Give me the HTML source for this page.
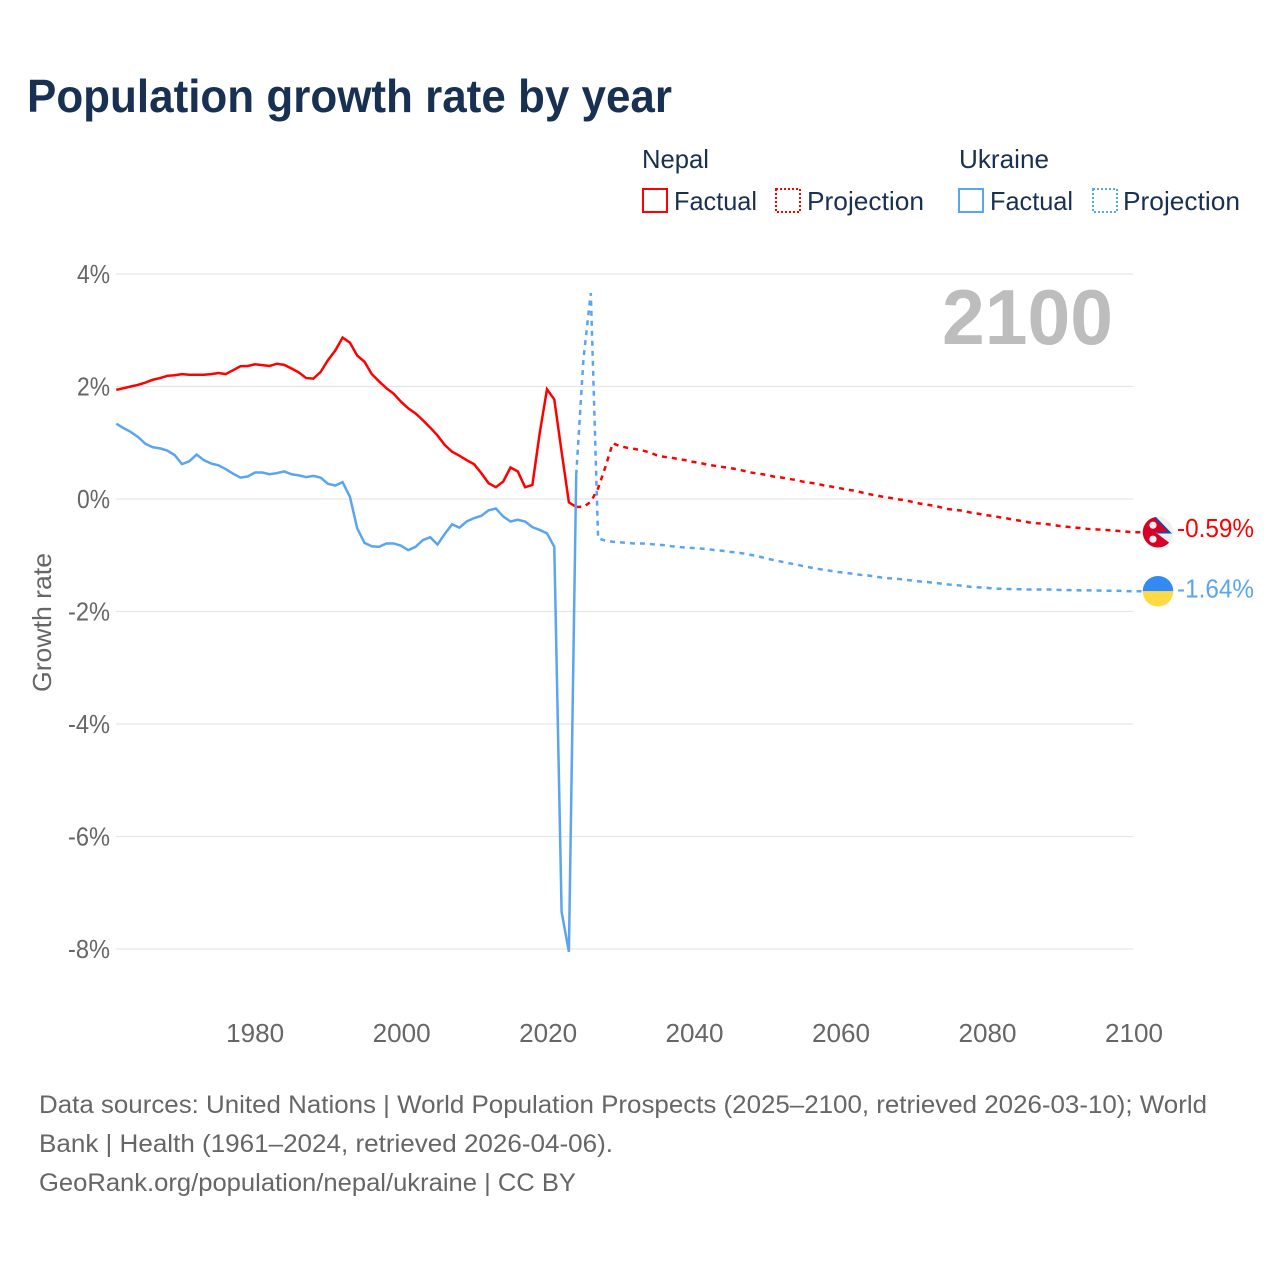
<!DOCTYPE html>
<html lang="en">
<head>
<meta charset="utf-8">
<title>Population growth rate by year</title>
<style>
html,body{margin:0;padding:0;background:#fff;}
svg{display:block;font-family:"Liberation Sans",sans-serif;}
.tick{font-size:26px;fill:#666;}
.legend{font-size:26px;fill:#1a3050;}
.foot{font-size:25px;fill:#666;}
</style>
</head>
<body>
<svg id="chart" width="1280" height="1280" viewBox="0 0 1280 1280" xmlns="http://www.w3.org/2000/svg">
  <rect x="0" y="0" width="1280" height="1280" fill="#fff"/>
  <text x="27" y="112" font-size="46" font-weight="700" fill="#183153" textLength="645" lengthAdjust="spacingAndGlyphs">Population growth rate by year</text>

  <g>
    <text class="legend" x="642" y="168" textLength="67" lengthAdjust="spacingAndGlyphs">Nepal</text>
    <text class="legend" x="959" y="168" textLength="90" lengthAdjust="spacingAndGlyphs">Ukraine</text>
    <rect x="643" y="189" width="24" height="23" fill="none" stroke="#ff0000" stroke-width="2"/>
    <text class="legend" x="674" y="210" textLength="83" lengthAdjust="spacingAndGlyphs">Factual</text>
    <rect x="776" y="189" width="24" height="23" fill="none" stroke="#ff0000" stroke-width="2" stroke-dasharray="2 2"/>
    <text class="legend" x="807" y="210" textLength="117" lengthAdjust="spacingAndGlyphs">Projection</text>
    <rect x="959" y="189" width="24" height="23" fill="none" stroke="#5aa5f0" stroke-width="2"/>
    <text class="legend" x="990" y="210" textLength="83" lengthAdjust="spacingAndGlyphs">Factual</text>
    <rect x="1093" y="189" width="24" height="23" fill="none" stroke="#5aa5f0" stroke-width="2" stroke-dasharray="2 2"/>
    <text class="legend" x="1123" y="210" textLength="117" lengthAdjust="spacingAndGlyphs">Projection</text>
  </g>

  <g id="grid"></g>
  <g id="y-ticks"></g>
  <g id="x-ticks"></g>
  <text class="tick" transform="translate(51,692) rotate(-90)" textLength="139" lengthAdjust="spacingAndGlyphs">Growth rate</text>
  <text x="942" y="344" font-size="78" font-weight="700" fill="#bdbdbd" textLength="171" lengthAdjust="spacingAndGlyphs">2100</text>

  <path id="nepal-projection-line" fill="none" stroke="#ff0000" stroke-width="2.5" stroke-dasharray="5 5"/>
  <path id="nepal-factual-line" fill="none" stroke="#ff0000" stroke-width="2.5" stroke-linejoin="miter"/>
  <path id="ukraine-projection-line" fill="none" stroke="#5aa5f0" stroke-width="2.5" stroke-dasharray="5 5"/>
  <path id="ukraine-factual-line" fill="none" stroke="#5aa5f0" stroke-width="2.5" stroke-linejoin="miter"/>

  <defs>
    <clipPath id="flag-clip"><circle cx="0" cy="0" r="15.3"/></clipPath>
  </defs>
  <g id="nepal-flag">
    <g clip-path="url(#flag-clip)">
      <rect x="-16" y="-16" width="32" height="32" fill="#f0f0f0"/>
      <polygon points="-16,-16 -3,-16 13,0.5 -2,0.5 12,11 8,16 -16,16" fill="#d80027"/>
      <polyline points="-3,-15 12,0.5 -1,0.5" fill="none" stroke="#0052b4" stroke-width="1.6"/>
      <circle cx="-5" cy="-7" r="3.6" fill="#f0f0f0"/>
      <circle cx="-5" cy="7" r="3.6" fill="#f0f0f0"/>
    </g>
  </g>
  <g id="ukraine-flag">
    <g clip-path="url(#flag-clip)">
      <rect x="-16" y="-16" width="32" height="16" fill="#338af3"/>
      <rect x="-16" y="0" width="32" height="16" fill="#ffda44"/>
    </g>
  </g>
  <text id="nepal-end-label" x="1177" font-size="26" fill="#ff0000" textLength="77" lengthAdjust="spacingAndGlyphs"></text>
  <text id="ukraine-end-label" x="1177" font-size="26" fill="#5aa5f0" textLength="77" lengthAdjust="spacingAndGlyphs"></text>

  <g>
    <text class="foot" x="39" y="1113" textLength="1168" lengthAdjust="spacingAndGlyphs">Data sources: United Nations | World Population Prospects (2025–2100, retrieved 2026-03-10); World</text>
    <text class="foot" x="39" y="1152" textLength="574" lengthAdjust="spacingAndGlyphs">Bank | Health (1961–2024, retrieved 2026-04-06).</text>
    <text class="foot" x="39" y="1191" textLength="537" lengthAdjust="spacingAndGlyphs">GeoRank.org/population/nepal/ukraine | CC BY</text>
  </g>
</svg>
<script>
const factualStartYear = 1961;
const projectionStartYear = 2024;
const xTickYears = [1980, 2000, 2020, 2040, 2060, 2080, 2100];
const yTickValues = [4, 2, 0, -2, -4, -6, -8];

const nepalFactual = [1.94,1.97,2.00,2.03,2.07,2.12,2.15,2.19,2.20,2.22,2.21,2.21,2.21,2.22,2.24,2.22,2.29,2.36,2.365,2.395,2.38,2.365,2.405,2.385,2.32,2.25,2.15,2.14,2.26,2.47,2.64,2.87,2.78,2.55,2.44,2.22,2.09,1.97,1.87,1.73,1.61,1.52,1.40,1.27,1.13,0.96,0.84,0.77,0.69,0.62,0.46,0.28,0.21,0.31,0.56,0.49,0.21,0.25,1.17,1.95,1.77,0.84,-0.06,-0.14];

const ukraineFactual = [1.34,1.26,1.19,1.10,0.98,0.92,0.90,0.86,0.78,0.62,0.67,0.79,0.69,0.63,0.60,0.53,0.45,0.38,0.40,0.47,0.47,0.44,0.46,0.49,0.44,0.42,0.39,0.41,0.38,0.27,0.24,0.30,0.04,-0.52,-0.78,-0.84,-0.85,-0.79,-0.79,-0.83,-0.91,-0.85,-0.73,-0.68,-0.81,-0.62,-0.45,-0.51,-0.40,-0.34,-0.30,-0.20,-0.17,-0.31,-0.40,-0.37,-0.40,-0.50,-0.55,-0.61,-0.85,-7.34,-8.05,0.43];

const nepalProjection = [-0.14,-0.14,-0.05,0.19,0.57,0.99,0.94,0.91,0.89,0.865,0.83,0.78,0.75,0.735,0.71,0.69,0.66,0.64,0.61,0.59,0.57,0.55,0.53,0.50,0.47,0.45,0.43,0.40,0.385,0.36,0.34,0.31,0.29,0.27,0.24,0.22,0.195,0.17,0.15,0.12,0.09,0.065,0.04,0.02,-0.005,-0.02,-0.05,-0.08,-0.10,-0.12,-0.15,-0.18,-0.195,-0.21,-0.24,-0.26,-0.285,-0.30,-0.325,-0.345,-0.37,-0.39,-0.415,-0.43,-0.44,-0.455,-0.475,-0.49,-0.505,-0.515,-0.53,-0.54,-0.545,-0.555,-0.565,-0.575,-0.59];

const ukraineProjection = [0.43,2.50,3.66,-0.70,-0.74,-0.76,-0.77,-0.78,-0.79,-0.79,-0.80,-0.81,-0.82,-0.84,-0.85,-0.865,-0.87,-0.88,-0.89,-0.91,-0.92,-0.94,-0.95,-0.97,-0.995,-1.02,-1.055,-1.085,-1.11,-1.14,-1.16,-1.19,-1.215,-1.24,-1.26,-1.28,-1.30,-1.315,-1.33,-1.35,-1.36,-1.38,-1.40,-1.41,-1.42,-1.435,-1.45,-1.465,-1.475,-1.49,-1.505,-1.52,-1.53,-1.545,-1.56,-1.57,-1.575,-1.59,-1.595,-1.60,-1.605,-1.605,-1.61,-1.61,-1.61,-1.61,-1.615,-1.62,-1.62,-1.625,-1.625,-1.625,-1.63,-1.63,-1.63,-1.635,-1.64];

const SVG_NS = 'http://www.w3.org/2000/svg';
const FLAG_EDGE_X = 1143;
function xScale(year) { return 116.3 + (year - 1961) * 7.3; }
function tickX(year) { return 116 + (year - 1961) * (1134 - 116) / (2100 - 1961); }
function yScale(value) { return 499 - value * 56.25; }
function linePath(values, startYear, tailToFlag) {
  let d = values.map(function (v, i) {
    return (i ? 'L' : 'M') + xScale(startYear + i).toFixed(2) + ' ' + yScale(v).toFixed(2);
  }).join(' ');
  if (tailToFlag) {
    d += ' L' + FLAG_EDGE_X + ' ' + yScale(values[values.length - 1]).toFixed(2);
  }
  return d;
}

const gridGroup = document.getElementById('grid');
const yTickGroup = document.getElementById('y-ticks');
const xTickGroup = document.getElementById('x-ticks');

yTickValues.forEach(function (v) {
  const line = document.createElementNS(SVG_NS, 'line');
  
  
  line.setAttribute('x1', 116);
  line.setAttribute('x2', 1133);
  line.setAttribute('y1', yScale(v));
  line.setAttribute('y2', yScale(v));
  line.setAttribute('stroke', '#e6e6e6');
  line.setAttribute('stroke-width', '1.2');
  gridGroup.appendChild(line);

  const label = document.createElementNS(SVG_NS, 'text');
  
  
  label.setAttribute('class', 'tick');
  const text = v + '%';
  const width = text.length === 2 ? 33 : 42;
  label.setAttribute('x', 110 - width);
  label.setAttribute('y', yScale(v) + 9);
  label.setAttribute('textLength', width);
  label.setAttribute('lengthAdjust', 'spacingAndGlyphs');
  label.textContent = text;
  yTickGroup.appendChild(label);
});

xTickYears.forEach(function (year) {
  const label = document.createElementNS(SVG_NS, 'text');
  
  
  label.setAttribute('class', 'tick');
  label.setAttribute('x', tickX(year) - 29);
  label.setAttribute('y', 1042);
  label.setAttribute('textLength', 58);
  label.setAttribute('lengthAdjust', 'spacingAndGlyphs');
  label.textContent = String(year);
  xTickGroup.appendChild(label);
});

document.getElementById('nepal-factual-line').setAttribute('d', linePath(nepalFactual, factualStartYear, false));
document.getElementById('ukraine-factual-line').setAttribute('d', linePath(ukraineFactual, factualStartYear, false));
document.getElementById('nepal-projection-line').setAttribute('d', linePath(nepalProjection, projectionStartYear, true));
document.getElementById('ukraine-projection-line').setAttribute('d', linePath(ukraineProjection, projectionStartYear, true));

const nepalLast = nepalProjection[nepalProjection.length - 1];
const ukraineLast = ukraineProjection[ukraineProjection.length - 1];
document.getElementById('nepal-flag').setAttribute('transform', 'translate(1158,' + yScale(nepalLast) + ')');
document.getElementById('ukraine-flag').setAttribute('transform', 'translate(1158,' + yScale(ukraineLast) + ')');
const nepalEnd = document.getElementById('nepal-end-label');
nepalEnd.setAttribute('y', yScale(nepalLast) + 5);
nepalEnd.textContent = nepalLast.toFixed(2) + '%';
const ukraineEnd = document.getElementById('ukraine-end-label');
ukraineEnd.setAttribute('y', yScale(ukraineLast) + 6);
ukraineEnd.textContent = ukraineLast.toFixed(2) + '%';
</script>
</body>
</html>
